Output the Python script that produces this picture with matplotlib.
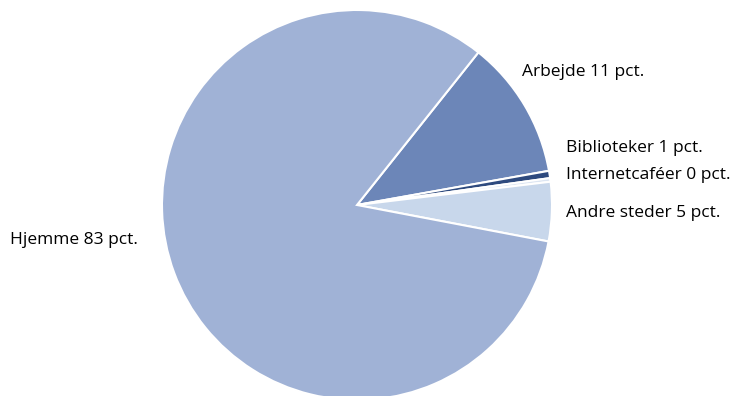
import matplotlib.pyplot as plt

labels = ['Arbejde 11 pct.', 'Biblioteker 1 pct.', 'Internetcaféer 0 pct.',
          'Andre steder 5 pct.', 'Hjemme 83 pct.']
values = [11.5, 0.6, 0.3, 4.9, 82.7]
colors = ['#6C86B8', '#2E4A7E', '#DCE5F2', '#C8D7EB', '#A0B2D6']

W, H = 733, 396
fig = plt.figure(figsize=(W / 100, H / 100), dpi=100)

# pie centre and radius in pixels
cx, cy, r = 357, 205, 195
ax = fig.add_axes([(cx - r) / W, (H - cy - r) / H, 2 * r / W, 2 * r / H])
ax.pie(values, colors=colors, startangle=51.5, counterclock=False,
       wedgeprops=dict(edgecolor='white', linewidth=1.5))
ax.set_xlim(-1, 1)
ax.set_ylim(-1, 1)
ax.set_aspect('equal')
ax.axis('off')

# label positions (pixels, left/centre of text)
label_pos = [(522, 72), (566, 148), (566, 175), (566, 213), (10, 240)]
for txt, (x, y) in zip(labels, label_pos):
    fig.text(x / W, 1 - y / H, txt, ha='left', va='center',
             fontsize=12.5, family='Open Sans', color='black')

fig.savefig('out.png', dpi=100)
